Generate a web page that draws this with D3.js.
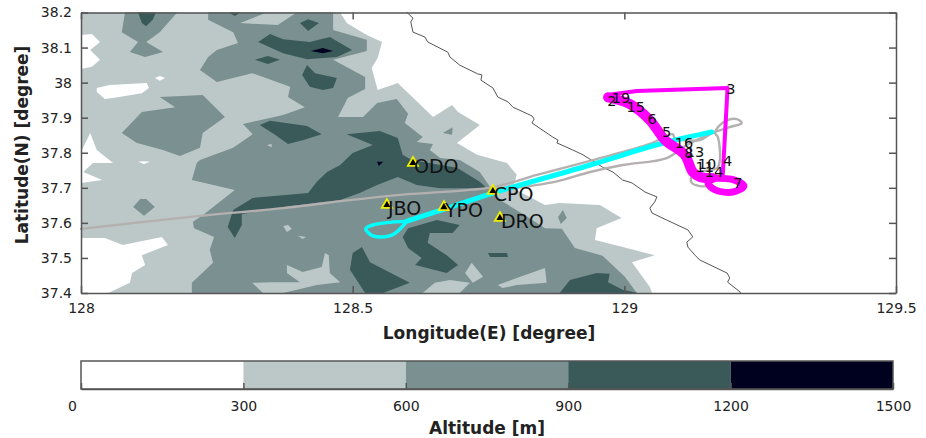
<!DOCTYPE html>
<html>
<head>
<meta charset="utf-8">
<style>
body { margin: 0; background: #fff; }
text { font-family: "DejaVu Sans", sans-serif; fill: #222; }
.axis text { font-size: 14px; font-weight: 500; }
.axis path, .axis line { stroke: #555; stroke-width: 1.5px; }
.title { font-size: 17px; font-weight: bold; }
.trk { fill: none; stroke-linejoin: round; stroke-linecap: round; }
</style>
</head>
<body>
<svg width="926" height="438"></svg>
<script src="https://d3js.org/d3.v7.min.js"></script>
<script>
// ticks
var lonTicks = [128, 128.5, 129, 129.5];
var latTicks = [37.4, 37.5, 37.6, 37.7, 37.8, 37.9, 38, 38.1, 38.2];
var altLevels = [0, 300, 600, 900, 1200, 1500];
var altColors = ["#ffffff", "#bcc8c8", "#7b9090", "#3a5a5a", "#00001f"];

// terrain areas, [lon, lat]
var lightAreas = [
  [[128,38.2],[128.477,38.2],[128.489,38.17],[128.526,38.136],[128.554,38.116],[128.546,38.07],[128.535,38.042],[128.546,37.979],[128.583,37.999],[128.648,37.902],[128.683,37.936],[128.694,37.916],[128.734,37.879],[128.692,37.828],[128.729,37.794],[128.784,37.771],[128.802,37.737],[128.795,37.699],[128.826,37.674],[128.854,37.651],[128.881,37.657],[128.955,37.651],[128.995,37.614],[128.949,37.585],[128.946,37.551],[128.997,37.531],[129.056,37.508],[129.014,37.488],[129.047,37.417],[129.051,37.4],[128,37.4]]
];
var whiteAreas = [
  [[128,38.136],[128.02,38.139],[128.035,38.116],[128.017,38.093],[128.035,38.065],[128.02,38.045],[128,38.039]],
  [[128.029,37.985],[128.053,37.993],[128.121,37.999],[128.125,37.985],[128.112,37.97],[128.059,37.956],[128.044,37.953],[128.029,37.973]],
  [[128.136,38.013],[128.145,38.019],[128.155,38.013],[128.145,38.005]],
  [[128,37.802],[128.017,37.856],[128.029,37.808],[128.059,37.771],[128.022,37.771],[128.004,37.745],[128.039,37.722],[128,37.714]],
  [[128.105,37.774],[128.116,37.776],[128.127,37.774],[128.116,37.768]],
  [[128,37.557],[128.044,37.557],[128.077,37.537],[128.149,37.56],[128.16,37.537],[128.112,37.508],[128.118,37.48],[128.094,37.457],[128.09,37.429],[128.05,37.4],[128,37.4]]
];
var midAreas = [
  [[128.081,38.2],[128.075,38.144],[128.105,38.116],[128.09,38.087],[128.118,38.073],[128.151,38.087],[128.12,38.116],[128.145,38.144],[128.177,38.2]],
  [[128.145,37.959],[128.224,37.965],[128.265,37.902],[128.224,37.856],[128.219,37.814],[128.182,37.791],[128.151,37.808],[128.103,37.828],[128.075,37.856],[128.112,37.916],[128.173,37.93]],
  [[128.096,37.645],[128.109,37.668],[128.12,37.668],[128.136,37.645],[128.116,37.62]],
  [[128.234,38.2],[128.234,38.179],[128.28,38.144],[128.289,38.113],[128.25,38.093],[128.234,38.073],[128.219,38.036],[128.25,38.002],[128.315,38.027],[128.385,37.988],[128.381,37.959],[128.412,37.93],[128.372,37.908],[128.298,37.882],[128.316,37.853],[128.28,37.814],[128.219,37.779],[128.213,37.771],[128.204,37.722],[128.283,37.694],[128.224,37.622],[128.206,37.603],[128.208,37.585],[128.245,37.56],[128.237,37.523],[128.243,37.486],[128.204,37.429],[128.204,37.4],[129.023,37.4],[129.001,37.446],[128.96,37.506],[128.909,37.528],[128.885,37.583],[128.854,37.585],[128.817,37.622],[128.765,37.671],[128.753,37.702],[128.734,37.745],[128.697,37.779],[128.661,37.785],[128.642,37.808],[128.648,37.825],[128.618,37.831],[128.629,37.845],[128.596,37.885],[128.602,37.911],[128.581,37.953],[128.545,37.942],[128.519,37.902],[128.473,37.902],[128.491,37.956],[128.523,37.982],[128.523,38.016],[128.464,38.065],[128.526,38.09],[128.526,38.122],[128.464,38.15],[128.464,38.2]],
  [[128.666,37.856],[128.684,37.873],[128.683,37.851]],
  [[128.878,37.617],[128.887,37.637],[128.894,37.614],[128.883,37.597]]
];
var lightIslands = [
  [[128.293,38.17],[128.342,38.2],[128.397,38.2],[128.362,38.164]],
  [[128.379,37.48],[128.408,37.46],[128.443,37.474],[128.449,37.514],[128.456,37.508],[128.458,37.457],[128.477,37.431],[128.434,37.423],[128.372,37.4],[128.335,37.4],[128.315,37.429],[128.353,37.431],[128.403,37.431],[128.379,37.457]],
  [[128.372,37.591],[128.381,37.594],[128.388,37.583],[128.379,37.574]],
  [[128.399,37.563],[128.414,37.56],[128.408,37.554]],
  [[128.707,37.457],[128.719,37.486],[128.74,37.446],[128.721,37.429]],
  [[128.767,37.423],[128.802,37.443],[128.854,37.471],[128.857,37.429],[128.802,37.423],[128.776,37.414]],
  [[128.629,37.4],[128.651,37.429],[128.679,37.437],[128.716,37.429],[128.697,37.4]],
  [[128.342,37.822],[128.351,37.825],[128.351,37.816]]
];
var darkAreas = [
  [[128.105,38.2],[128.112,38.17],[128.12,38.161],[128.132,38.179],[128.138,38.2]],
  [[128.326,38.116],[128.348,38.139],[128.372,38.124],[128.421,38.116],[128.458,38.13],[128.499,38.093],[128.471,38.073],[128.416,38.067],[128.372,38.084]],
  [[128.32,38.065],[128.344,38.076],[128.366,38.065],[128.344,38.053]],
  [[128.403,38.17],[128.418,38.181],[128.438,38.17],[128.418,38.147]],
  [[128.416,38.05],[128.431,38.027],[128.471,38.013],[128.464,37.985],[128.445,37.979],[128.421,37.988],[128.407,38.022]],
  [[128.272,38.2],[128.283,38.19],[128.293,38.2]],
  [[128.329,37.879],[128.348,37.891],[128.416,37.876],[128.443,37.853],[128.408,37.836],[128.381,37.825],[128.357,37.851]],
  [[128.489,37.853],[128.55,37.862],[128.583,37.842],[128.592,37.794],[128.609,37.779],[128.692,37.757],[128.734,37.717],[128.747,37.699],[128.661,37.699],[128.618,37.708],[128.583,37.731],[128.545,37.708],[128.513,37.685],[128.477,37.665],[128.372,37.645],[128.296,37.625],[128.296,37.594],[128.283,37.557],[128.27,37.588],[128.28,37.637],[128.316,37.671],[128.418,37.685],[128.434,37.717],[128.453,37.745],[128.477,37.765],[128.5,37.799],[128.537,37.822]],
  [[128.592,37.56],[128.602,37.585],[128.655,37.608],[128.697,37.594],[128.684,37.571],[128.642,37.571],[128.638,37.543],[128.673,37.508],[128.694,37.48],[128.673,37.457],[128.615,37.48],[128.627,37.5],[128.602,37.528]],
  [[128.495,37.466],[128.5,37.514],[128.517,37.531],[128.532,37.488],[128.605,37.429],[128.556,37.4],[128.523,37.4]],
  [[128.749,37.514],[128.784,37.514],[128.786,37.503],[128.753,37.503]],
  [[128.881,37.4],[128.9,37.437],[128.949,37.457],[128.973,37.455],[128.97,37.431],[128.997,37.409],[129.025,37.4]]
];
var blackAreas = [
  [[128.423,38.09],[128.445,38.099],[128.464,38.09],[128.445,38.084]],
  [[128.545,37.774],[128.556,37.774],[128.548,37.762]]
];

// coastline
var coast = [[128.6,38.2],[128.611,38.184],[128.607,38.173],[128.611,38.144],[128.633,38.13],[128.638,38.116],[128.675,38.087],[128.679,38.073],[128.697,38.05],[128.73,38.025],[128.738,38.022],[128.736,38.007],[128.758,37.985],[128.767,37.959],[128.786,37.945],[128.795,37.93],[128.83,37.905],[128.834,37.896],[128.83,37.885],[128.868,37.845],[128.878,37.836],[128.876,37.828],[128.905,37.808],[128.924,37.794],[128.96,37.759],[128.979,37.745],[128.997,37.722],[129.014,37.714],[129.038,37.688],[129.06,37.674],[129.056,37.66],[129.047,37.642],[129.051,37.628],[129.078,37.608],[129.117,37.58],[129.126,37.56],[129.115,37.545],[129.117,37.531],[129.13,37.508],[129.139,37.494],[129.189,37.457],[129.194,37.443],[129.19,37.431],[129.213,37.403],[129.214,37.4]];

// flight tracks
var grayTrack = [[128,37.583],[128.219,37.62],[128.372,37.642],[128.495,37.665],[128.587,37.68],[128.758,37.702],[128.839,37.737],[128.942,37.779],[129.047,37.825],[129.089,37.853],[129.093,37.842],[129.139,37.836],[129.161,37.856],[129.194,37.873],[129.216,37.885],[129.207,37.896],[129.19,37.893],[129.172,37.873],[129.167,37.856],[129.172,37.845],[129.172,37.759],[129.139,37.745],[129.124,37.731],[129.124,37.714],[129.139,37.705],[129.161,37.705]];
var grayBranch = [[129.161,37.856],[129.115,37.822],[129.078,37.785],[128.997,37.765],[128.937,37.745],[128.872,37.717],[128.771,37.694]];
var cyanTrack = [[129.161,37.859],[129.065,37.825],[128.937,37.765],[128.758,37.685],[128.67,37.64],[128.6,37.605]];
var cyanLoop = [[128.6,37.605],[128.572,37.565],[128.537,37.563],[128.524,37.583],[128.537,37.594],[128.6,37.605]];
var magentaThin = [[129.181,37.731],[129.19,37.985],[129.023,37.976],[128.968,37.965]];
var magentaThick = [[128.97,37.958],[129.01,37.939],[129.047,37.893],[129.075,37.836],[129.111,37.794],[129.126,37.745],[129.139,37.731],[129.161,37.728]];
var magentaLoop = [[129.161,37.728],[129.203,37.722],[129.22,37.705],[129.2,37.688],[129.167,37.694],[129.154,37.714],[129.167,37.728]];

// waypoint numbers
var wpNames = ["3","19","2","15","6","5","16","8","13","10","4","11","14","7"];
var wpLon = [129.196,128.994,128.977,129.021,129.051,129.078,129.11,129.119,129.13,129.152,129.19,129.148,129.165,129.209];
var wpLat = [37.982,37.956,37.948,37.93,37.896,37.859,37.828,37.799,37.802,37.768,37.776,37.759,37.745,37.714];

// ground sites
var siteNames = ["ODO","CPO","JBO","YPO","DRO"];
var siteLon = [128.611,128.758,128.563,128.668,128.771];
var siteLat = [37.771,37.691,37.651,37.645,37.614];

var svg = d3.select("svg");
var x = d3.scaleLinear().domain([128, 129.5]).range([81, 896]);
var y = d3.scaleLinear().domain([37.4, 38.2]).range([293, 12.5]);
var line = d3.line().x(d => x(d[0])).y(d => y(d[1]));
var smooth = d3.line().x(d => x(d[0])).y(d => y(d[1])).curve(d3.curveCatmullRom.alpha(0.5));

function areas(list, col) {
  svg.append("g").selectAll("path").data(list).enter().append("path")
    .attr("d", d => line(d) + "Z")
    .attr("fill", col);
}
areas(lightAreas, altColors[1]);
areas(whiteAreas, altColors[0]);
areas(midAreas, altColors[2]);
areas(lightIslands, altColors[1]);
areas(darkAreas, altColors[3]);
areas(blackAreas, altColors[4]);

function track(d, col, w, gen) {
  svg.append("path").attr("class", "trk").attr("d", (gen || smooth)(d)).attr("stroke", col).attr("stroke-width", w);
}
track(coast, "#555", 1, line);
track(grayTrack, "#b5b0b0", 2.4);
track(grayBranch, "#b5b0b0", 2.4);
track(cyanTrack, "#00ffff", 5);
track(cyanLoop, "#00ffff", 3.5);
track(magentaThin, "#ff00ff", 4, line);
track(magentaThick, "#ff00ff", 10);
track(magentaLoop, "#ff00ff", 7);

wpNames.forEach(function(t, i) {
  svg.append("text").attr("x", x(wpLon[i])).attr("y", y(wpLat[i]))
    .attr("text-anchor", "middle").attr("dominant-baseline", "central")
    .style("font-size", "14.5px").style("fill", "#111").text(t);
});

var tri = d3.symbol().type(d3.symbolTriangle).size(46);
siteNames.forEach(function(t, i) {
  svg.append("path").attr("d", tri())
    .attr("transform", "translate(" + x(siteLon[i]) + "," + y(siteLat[i]) + ")")
    .attr("fill", "#000").attr("stroke", "#eeee00").attr("stroke-width", 1.8);
  svg.append("text").attr("x", x(siteLon[i]) + 1).attr("y", y(siteLat[i]) + 3)
    .attr("dominant-baseline", "central")
    .style("font-size", "19px").style("fill", "#111").text(t);
});

// frame and ticks
var lonFmt = d => String(d);
svg.append("g").attr("class", "axis").attr("transform", "translate(0,293)")
  .call(d3.axisBottom(x).tickValues(lonTicks).tickFormat(lonFmt).tickSizeInner(-7).tickSizeOuter(0).tickPadding(10));
svg.append("g").attr("class", "axis").attr("transform", "translate(0,12.5)")
  .call(d3.axisTop(x).tickValues(lonTicks).tickFormat("").tickSizeInner(-7).tickSizeOuter(0));
svg.append("g").attr("class", "axis").attr("transform", "translate(81,0)")
  .call(d3.axisLeft(y).tickValues(latTicks).tickFormat(lonFmt).tickSizeInner(-7).tickSizeOuter(0).tickPadding(9));
svg.append("g").attr("class", "axis").attr("transform", "translate(896,0)")
  .call(d3.axisRight(y).tickValues(latTicks).tickFormat("").tickSizeInner(-7).tickSizeOuter(0));

svg.append("text").attr("class", "title").attr("x", 489).attr("y", 333)
  .attr("text-anchor", "middle").attr("dominant-baseline", "central").text("Longitude(E) [degree]");
svg.append("text").attr("class", "title")
  .attr("transform", "translate(22,145) rotate(-90)")
  .attr("text-anchor", "middle").attr("dominant-baseline", "central").text("Latitude(N) [degree]");

// colour bar
var c = d3.scaleLinear().domain([0, 1500]).range([81, 893]);
svg.append("g").selectAll("rect").data(altColors).enter().append("rect")
  .attr("x", (d, i) => c(altLevels[i]))
  .attr("width", (d, i) => c(altLevels[i + 1]) - c(altLevels[i]))
  .attr("y", 361).attr("height", 28)
  .attr("fill", d => d);
svg.append("rect").attr("x", 81).attr("y", 361).attr("width", 812).attr("height", 28)
  .attr("fill", "none").attr("stroke", "#555").attr("stroke-width", 1.5);
var cax = svg.append("g").attr("class", "axis").attr("transform", "translate(0,389)")
  .call(d3.axisBottom(c).tickValues(altLevels).tickSizeInner(-6).tickSizeOuter(0).tickPadding(12).tickFormat(d => String(d)));
cax.selectAll(".tick text").filter(d => d === 0).attr("dx", -9);
svg.append("text").attr("class", "title").attr("x", 487).attr("y", 428)
  .attr("text-anchor", "middle").attr("dominant-baseline", "central").text("Altitude [m]");
</script>
</body>
</html>
